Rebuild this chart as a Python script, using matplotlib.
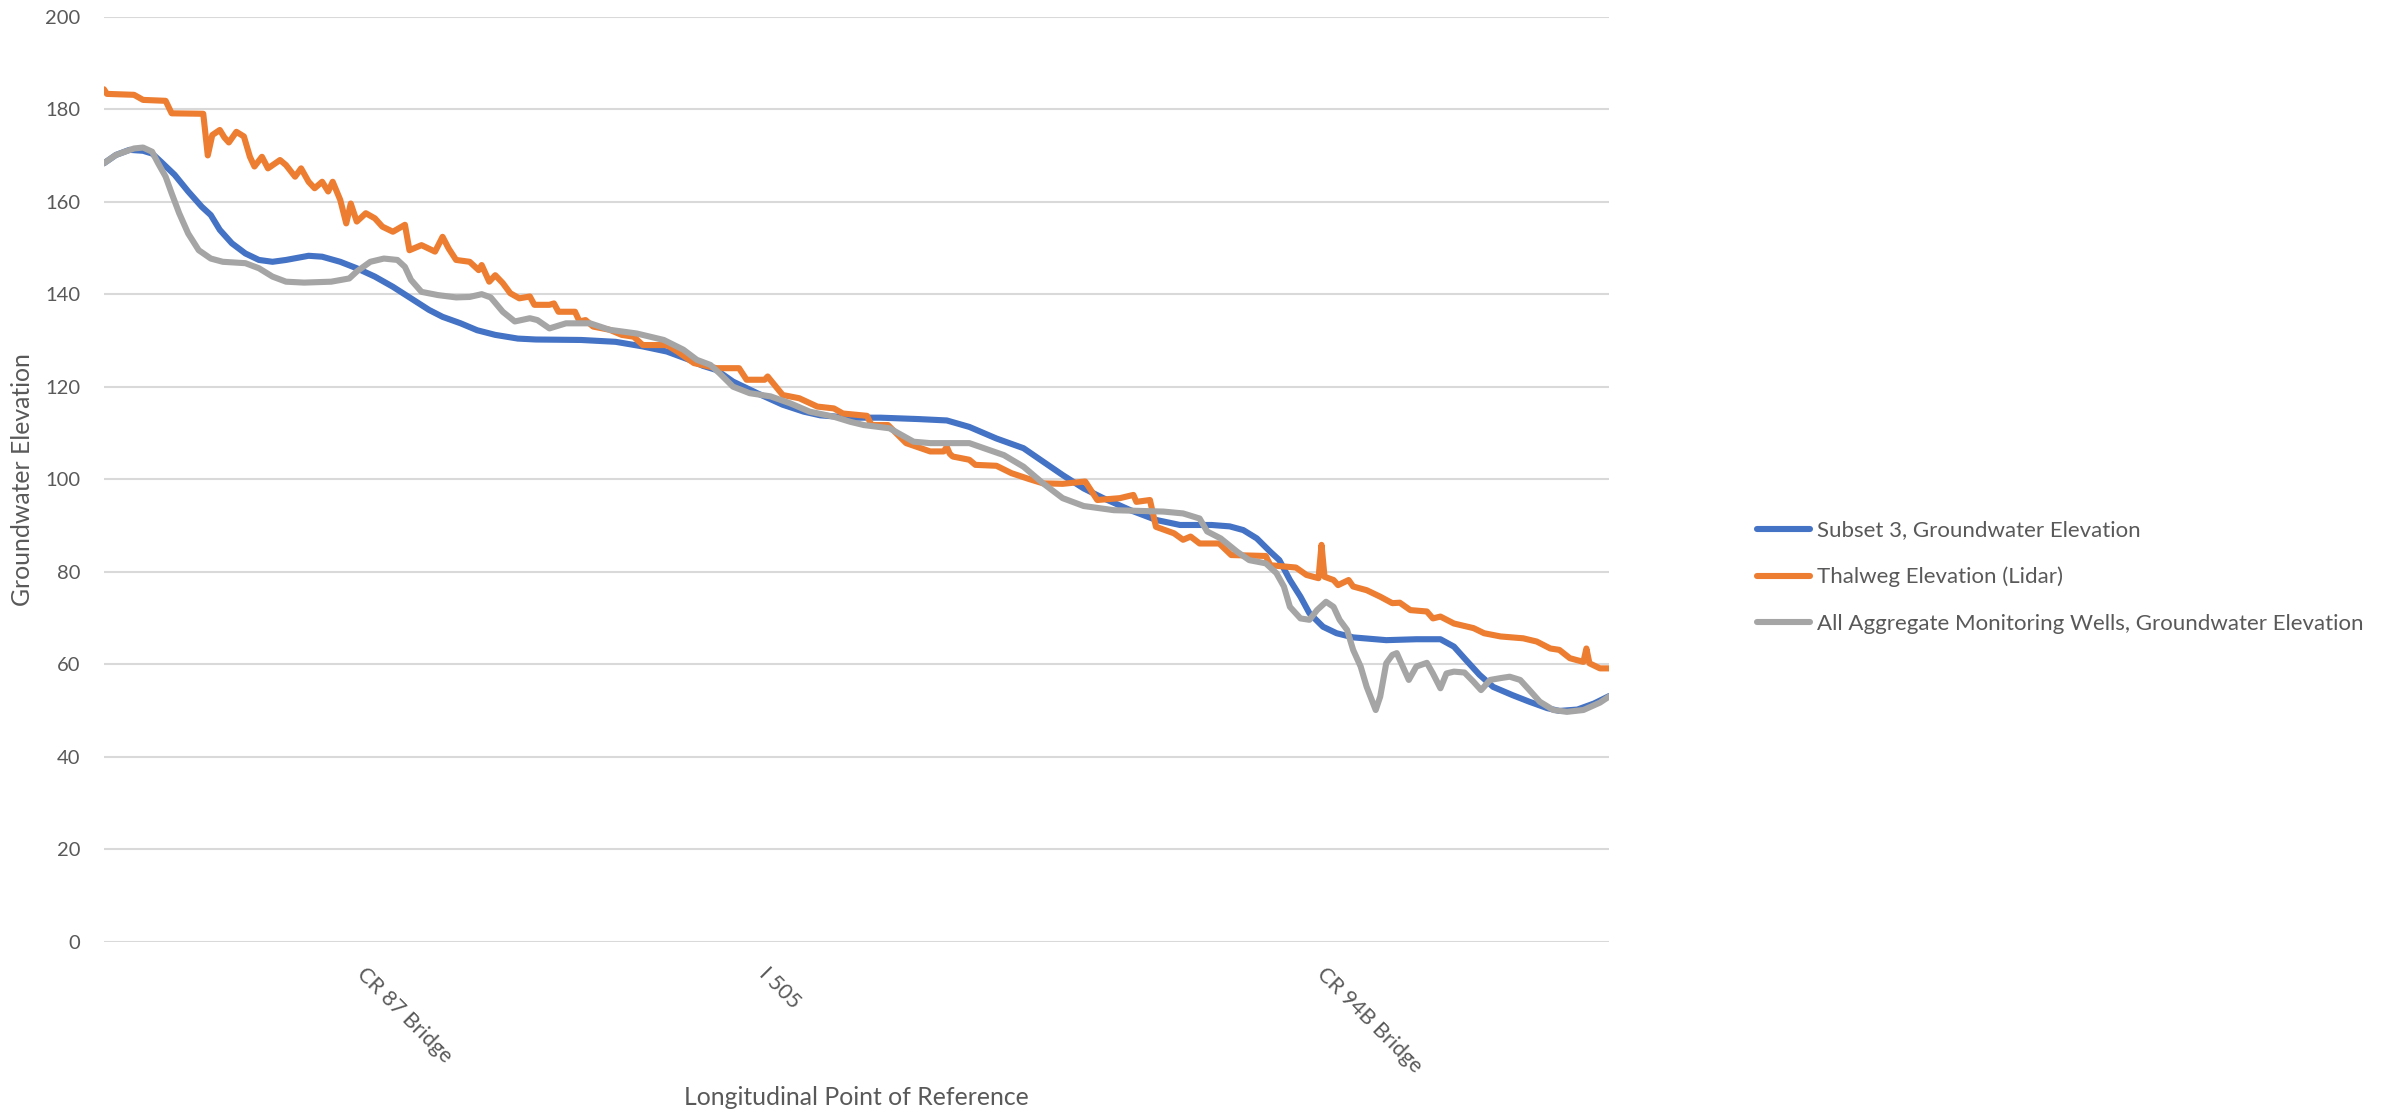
import matplotlib
matplotlib.use('Agg')
import matplotlib.pyplot as plt

plt.rcParams['font.family'] = ['Lato', 'DejaVu Sans']

# reference crossings shown on the category axis
landmark_stations = [175, 442, 813]
landmark_names = ['CR 87 Bridge', 'I 505', 'CR 94B Bridge']

subset3_station = [0, 8, 17, 26, 32, 38, 47, 56, 65, 71, 77, 85, 94, 103, 112, 121, 136, 145,
                   157, 168, 180, 192, 204, 216, 225, 237, 248, 260, 275, 287, 317, 340, 358,
                   374, 389, 398, 407, 418, 434, 451, 465, 476, 496, 516, 541, 560, 575, 593,
                   611, 624, 637, 651, 664, 682, 699, 715, 736, 748, 757, 766, 775, 781, 788,
                   795, 801, 810, 819, 830, 852, 872, 888, 897, 905, 914, 923, 936, 947, 959,
                   967, 979, 990, 1000]
subset3_elev = [168.3, 170.1, 171.2, 171.0, 170.4, 168.6, 165.8, 162.2, 158.9, 157.1, 153.9,
                151.0, 148.8, 147.4, 147.0, 147.4, 148.3, 148.1, 147.0, 145.6, 143.8, 141.6,
                139.1, 136.6, 135.1, 133.7, 132.2, 131.2, 130.4, 130.2, 130.1, 129.7, 128.7,
                127.6, 125.8, 124.5, 123.6, 121.1, 118.6, 116.1, 114.6, 113.8, 113.3, 113.3,
                113.0, 112.7, 111.3, 108.8, 106.7, 103.8, 100.9, 98.0, 95.9, 93.3, 91.2, 90.1,
                90.1, 89.8, 89.0, 87.2, 84.3, 82.5, 78.2, 74.6, 71.0, 68.1, 66.7, 65.8, 65.2,
                65.4, 65.4, 63.8, 60.9, 57.7, 55.1, 53.3, 51.9, 50.5, 49.9, 50.2, 51.5, 53.1]

thalweg_station = [0, 2, 20, 26, 41, 45, 66, 69, 72, 77, 80, 83, 88, 93, 97, 100, 105, 109,
                   117, 121, 127, 131, 136, 140, 145, 149, 152, 157, 161, 164, 168, 174, 180,
                   185, 192, 200, 203, 211, 220, 225, 229, 234, 243, 249, 251, 256, 260, 265,
                   270, 276, 283, 286, 296, 299, 302, 313, 316, 320, 325, 336, 344, 352, 358,
                   374, 381, 392, 407, 422, 427, 439, 441, 451, 462, 474, 485, 491, 507, 510,
                   521, 533, 549, 558, 560, 562, 564, 575, 579, 593, 603, 615, 624, 637, 652,
                   655, 660, 675, 684, 686, 695, 699, 711, 717, 722, 728, 741, 749, 772, 775,
                   792, 799, 807, 809, 811, 817, 820, 827, 830, 839, 848, 856, 861, 868, 879,
                   883, 888, 897, 910, 917, 928, 943, 952, 961, 967, 974, 983, 985, 987, 994,
                   1000]
thalweg_elev = [184.3, 183.3, 183.1, 182.0, 181.8, 179.1, 179.0, 170.0, 174.4, 175.5, 173.9,
                172.8, 175.1, 174.1, 169.7, 167.6, 169.7, 167.2, 169.0, 167.9, 165.4, 167.2,
                164.3, 162.9, 164.3, 162.2, 164.3, 160.4, 155.3, 159.6, 155.7, 157.5, 156.4,
                154.6, 153.5, 155.0, 149.5, 150.6, 149.2, 152.4, 149.9, 147.4, 147.0, 145.2,
                146.3, 142.7, 144.1, 142.4, 140.2, 139.1, 139.5, 137.7, 137.7, 138.0, 136.2,
                136.2, 134.1, 134.4, 133.0, 132.3, 131.2, 130.8, 129.0, 129.0, 127.6, 125.1,
                124.0, 124.0, 121.5, 121.5, 122.2, 118.2, 117.5, 115.7, 115.3, 114.2, 113.7,
                111.7, 111.7, 107.8, 106.0, 106.0, 107.0, 105.5, 104.9, 104.2, 103.1, 102.9,
                101.3, 100.0, 99.1, 99.0, 99.5, 98.0, 95.5, 95.9, 96.6, 95.1, 95.5, 89.7, 88.3,
                86.9, 87.6, 86.1, 86.1, 83.6, 83.4, 81.4, 80.9, 79.3, 78.6, 85.8, 78.9, 78.2,
                77.1, 78.2, 76.8, 76.0, 74.6, 73.2, 73.3, 71.7, 71.4, 69.9, 70.3, 68.8, 67.8,
                66.7, 66.0, 65.6, 64.9, 63.4, 63.1, 61.3, 60.5, 63.4, 60.2, 59.1, 59.1]

wells_station = [0, 8, 20, 26, 32, 36, 41, 45, 50, 56, 63, 71, 79, 94, 103, 112, 121, 133, 151,
                 163, 168, 177, 186, 195, 200, 204, 211, 222, 234, 243, 251, 257, 265, 273, 283,
                 288, 296, 307, 323, 336, 354, 372, 385, 394, 403, 409, 418, 429, 443, 456, 469,
                 485, 496, 505, 522, 538, 549, 575, 598, 611, 624, 637, 651, 671, 704, 717, 728,
                 733, 742, 753, 761, 772, 779, 784, 788, 795, 801, 806, 812, 817, 821, 826, 830,
                 835, 839, 845, 848, 852, 856, 859, 862, 867, 872, 879, 883, 888, 892, 897, 904,
                 910, 915, 921, 928, 934, 941, 948, 954, 963, 972, 983, 994, 1000]
wells_elev = [168.3, 170.1, 171.5, 171.7, 170.8, 168.3, 165.4, 161.8, 157.5, 153.1, 149.5,
              147.7, 147.0, 146.7, 145.6, 143.8, 142.7, 142.5, 142.7, 143.4, 144.9, 147.0, 147.7,
              147.4, 145.9, 143.1, 140.5, 139.8, 139.3, 139.4, 140.0, 139.3, 136.2, 134.1, 134.8,
              134.4, 132.6, 133.7, 133.7, 132.3, 131.5, 130.1, 128.0, 125.8, 124.7, 122.9, 120.0,
              118.6, 117.9, 116.4, 114.6, 113.5, 112.4, 111.7, 111.0, 108.1, 107.8, 107.8, 105.2,
              102.7, 99.1, 95.9, 94.2, 93.3, 93.0, 92.6, 91.5, 88.7, 87.2, 84.3, 82.5, 81.8, 79.7,
              76.8, 72.4, 69.9, 69.6, 71.7, 73.5, 72.4, 69.6, 67.4, 63.1, 59.5, 55.1, 50.1, 53.0,
              60.2, 62.0, 62.4, 60.2, 56.6, 59.5, 60.3, 58.0, 54.8, 58.0, 58.4, 58.2, 56.2, 54.4,
              56.6, 57.0, 57.3, 56.6, 54.1, 51.9, 50.1, 49.7, 50.1, 51.7, 53.0]

text_color = '#595959'

fig = plt.figure(figsize=(23.89, 11.17), dpi=100)
ax = fig.add_axes([0.0435, 0.1569, 0.6300, 0.8282])

line_kw = dict(linewidth=4.4, solid_capstyle='round', solid_joinstyle='round')
ax.plot(subset3_station, subset3_elev, color='#4472C4', label='Subset 3, Groundwater Elevation', **line_kw)
ax.plot(thalweg_station, thalweg_elev, color='#ED7D31', label='Thalweg Elevation (Lidar)', **line_kw)
ax.plot(wells_station, wells_elev, color='#A5A5A5',
        label='All Aggregate Monitoring Wells, Groundwater Elevation', **line_kw)

ax.set_xlim(0, 1000)
ax.set_ylim(0, 200)
ax.set_yticks(range(0, 201, 20))
ax.grid(axis='y', color='#D9D9D9', linewidth=1.5)
ax.set_axisbelow(True)
for side in ['top', 'right', 'left', 'bottom']:
    ax.spines[side].set_visible(False)

ax.set_xticks(landmark_stations)
ax.set_xticklabels(landmark_names)
ax.tick_params(axis='both', length=0, labelsize=14.5, labelcolor=text_color)
ax.tick_params(axis='x', labelsize=15.5, pad=16)
ax.tick_params(axis='y', pad=17)
plt.setp(ax.get_xticklabels(), rotation=-45, ha='left', rotation_mode='anchor')

ax.set_ylabel('Groundwater Elevation', fontsize=17.8, color=text_color)
ax.yaxis.set_label_coords(-0.0465, 0.5)
ax.set_xlabel('Longitudinal Point of Reference', fontsize=17.8, color=text_color)
ax.xaxis.set_label_coords(0.5, -0.156)

fig.legend(loc='center left', bbox_to_anchor=(0.7355, 0.4834), frameon=False,
           fontsize=16, labelcolor=text_color, handlelength=2.4, handletextpad=0.28,
           labelspacing=1.18, borderpad=0, borderaxespad=0)

fig.savefig('out.png', dpi=100)
